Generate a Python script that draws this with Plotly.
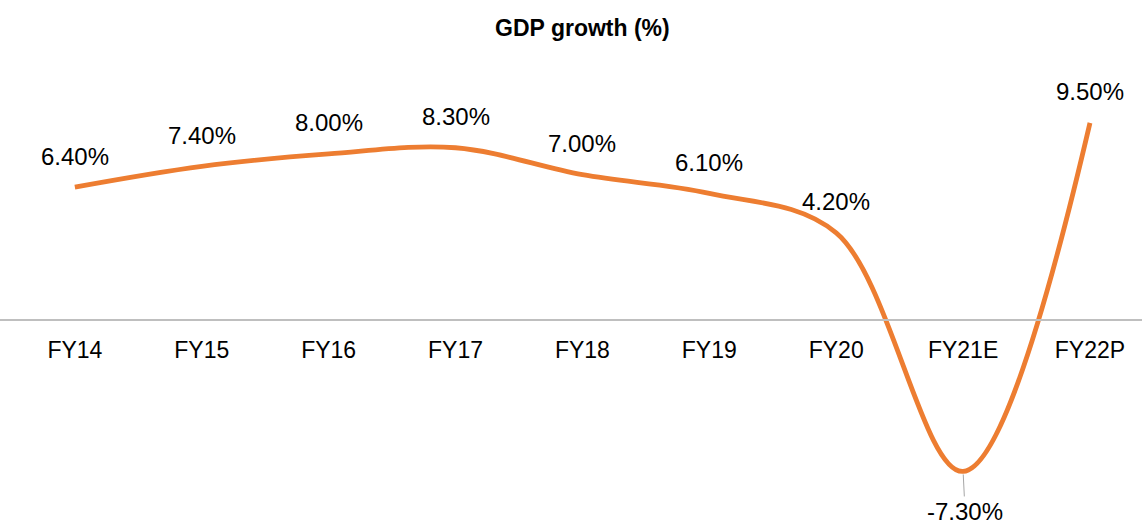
import plotly.graph_objects as go

years = ['FY14', 'FY15', 'FY16', 'FY17', 'FY18', 'FY19', 'FY20', 'FY21E', 'FY22P']
gdp_growth = [6.4, 7.4, 8.0, 8.3, 7.0, 6.1, 4.2, -7.3, 9.5]
labels = ['6.40%', '7.40%', '8.00%', '8.30%', '7.00%', '6.10%', '4.20%', '-7.30%', '9.50%']

y_min, y_max = -9.64, 15.42
zero_pos = (0 - y_min) / (y_max - y_min)

fig = go.Figure()
fig.add_trace(go.Scatter(
    x=years,
    y=gdp_growth,
    mode='lines',
    line=dict(color='#ED7D31', width=4.8, shape='spline', smoothing=1.0),
    hoverinfo='x+y',
    showlegend=False
))

annotations_list = []
for yr, val, lab in zip(years, gdp_growth, labels):
    if val < 0:
        annotations_list.append(dict(
            x=yr, y=val, xref='x', yref='y', text=lab,
            showarrow=True, ax=2, ay=40, arrowhead=0, arrowwidth=1,
            arrowcolor='#A6A6A6', standoff=3, startstandoff=0,
            font=dict(size=24, color='black')
        ))
    else:
        annotations_list.append(dict(
            x=yr, y=val, xref='x', yref='y', text=lab,
            showarrow=False, yshift=31,
            font=dict(size=24, color='black')
        ))

fig.update_layout(
    title=dict(text='<b>GDP growth (%)</b>', x=0.51, xanchor='center',
               y=1 - 28 / 520, yanchor='middle',
               font=dict(size=23, color='black')),
    font=dict(family='Liberation Sans, Arial, sans-serif', color='black', size=23),
    width=1142,
    height=520,
    margin=dict(l=0, r=0, t=0, b=0),
    plot_bgcolor='white',
    paper_bgcolor='white',
    xaxis=dict(
        type='category',
        range=[-0.59, 8.41],
        domain=[0, 1],
        anchor='free',
        position=zero_pos,
        showline=True,
        linecolor='#BFBFBF',
        linewidth=1.5,
        showgrid=False,
        ticks='',
        tickfont=dict(size=23, color='black'),
        ticklabelstandoff=10,
        zeroline=False
    ),
    yaxis=dict(
        range=[y_min, y_max],
        domain=[0, 1],
        visible=False,
        showgrid=False,
        zeroline=False
    ),
    annotations=annotations_list
)

# drop the default 8px body margin so the figure fills the window exactly
fig.write_html('out.html', config={'displayModeBar': False},
               post_script="document.body.style.margin='0';")
